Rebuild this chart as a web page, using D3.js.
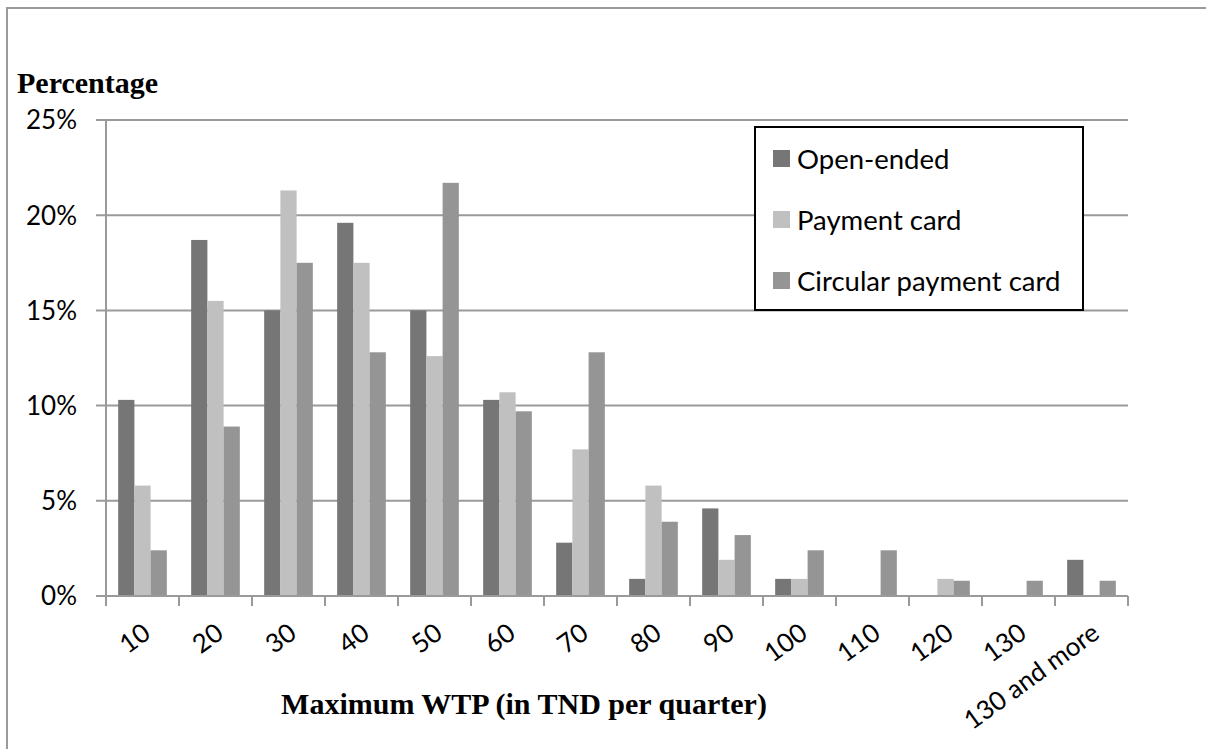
<!DOCTYPE html>
<html>
<head>
<meta charset="utf-8">
<script src="https://cdn.jsdelivr.net/npm/d3@7"></script>
<style>
  body { margin: 0; background: #fff; }
  .tick-label { font-family: Lato, "Open Sans", sans-serif; font-size: 26px; fill: #000; }
  .legend-label { font-family: Lato, "Open Sans", sans-serif; font-size: 27.5px; fill: #000; }
  .title { font-family: "Liberation Serif", "DejaVu Serif", serif; font-weight: bold; font-size: 30px; fill: #000; }
</style>
</head>
<body>
<svg id="chart" width="1206" height="749"></svg>
<script>
// WTP categories and the share of respondents (%) per elicitation format
const categories = ["10", "20", "30", "40", "50", "60", "70", "80", "90", "100", "110", "120", "130", "130 and more"];
const seriesNames = ["Open-ended", "Payment card", "Circular payment card"];
const openEnded   = [10.3, 18.7, 15.0, 19.6, 15.0, 10.3, 2.8, 0.9, 4.6, 0.9, 0, 0, 0, 1.9];
const paymentCard = [5.8, 15.5, 21.3, 17.5, 12.6, 10.7, 7.7, 5.8, 1.9, 0.9, 0, 0.9, 0, 0];
const circularCard = [2.4, 8.9, 17.5, 12.8, 21.7, 9.7, 12.8, 3.9, 3.2, 2.4, 2.4, 0.8, 0.8, 0.8];
const yTicks = [0, 5, 10, 15, 20, 25];
const colors = ["#767676", "#c0c0c0", "#959595"];

const seriesValues = [openEnded, paymentCard, circularCard];

const svg = d3.select("#chart");

// plot area
const plotLeft = 106, plotRight = 1128, plotTop = 120, plotBottom = 596;

// outer frame (left + top lines only visible)
svg.append("path")
    .attr("d", "M7,749 L7,8 L1206,8")
    .attr("fill", "none")
    .attr("stroke", "#9a9a9a")
    .attr("stroke-width", 2);

const x0 = d3.scaleBand()
    .domain(categories)
    .range([plotLeft, plotRight])
    .padding(0);

// gap width 150% like Excel
const x1 = d3.scaleBand()
    .domain(seriesNames)
    .range([0, x0.bandwidth()])
    .paddingInner(0)
    .paddingOuter(0.75);

const y = d3.scaleLinear()
    .domain([0, 25])
    .range([plotBottom, plotTop]);

// gridlines
svg.append("g")
    .selectAll("line")
    .data(yTicks)
    .join("line")
    .attr("x1", plotLeft - 10)
    .attr("x2", plotRight)
    .attr("y1", d => y(d))
    .attr("y2", d => y(d))
    .attr("stroke", "#9a9a9a")
    .attr("stroke-width", 2);

// y labels
svg.append("g")
    .selectAll("text")
    .data(yTicks)
    .join("text")
    .attr("class", "tick-label")
    .attr("x", 77)
    .attr("y", d => y(d))
    .attr("dy", "0.36em")
    .attr("text-anchor", "end")
    .text(d => d + "%");

// bars
const groups = svg.append("g")
    .selectAll("g")
    .data(categories)
    .join("g")
    .attr("transform", d => `translate(${x0(d)},0)`);

groups.selectAll("rect")
    .data((c, i) => seriesNames.map((s, k) => ({ s, k, v: seriesValues[k][i] })))
    .join("rect")
    .attr("x", d => x1(d.s))
    .attr("y", d => y(d.v))
    .attr("width", x1.bandwidth())
    .attr("height", d => y(0) - y(d.v))
    .attr("fill", d => colors[d.k]);

// y axis line
svg.append("line")
    .attr("x1", plotLeft).attr("x2", plotLeft)
    .attr("y1", plotTop).attr("y2", plotBottom)
    .attr("stroke", "#9a9a9a")
    .attr("stroke-width", 2);

// x axis line + ticks at category boundaries
const xBounds = categories.map(c => x0(c)).concat([plotRight]);
svg.append("line")
    .attr("x1", plotLeft).attr("x2", plotRight)
    .attr("y1", plotBottom).attr("y2", plotBottom)
    .attr("stroke", "#9a9a9a")
    .attr("stroke-width", 2);
svg.append("g")
    .selectAll("line")
    .data(xBounds)
    .join("line")
    .attr("x1", d => d).attr("x2", d => d)
    .attr("y1", plotBottom).attr("y2", plotBottom + 10)
    .attr("stroke", "#9a9a9a")
    .attr("stroke-width", 2);

// rotated category labels
svg.append("g")
    .selectAll("text")
    .data(categories)
    .join("text")
    .attr("class", "tick-label")
    .attr("text-anchor", "end")
    .attr("transform", d => `translate(${x0(d) + x0.bandwidth() / 2 - 1},${622}) rotate(-36)`)
    .attr("dy", "0.7em")
    .text(d => d);

// titles
svg.append("text")
    .attr("class", "title")
    .attr("x", 17)
    .attr("y", 93)
    .text("Percentage");

svg.append("text")
    .attr("class", "title")
    .attr("x", 524)
    .attr("y", 714)
    .attr("text-anchor", "middle")
    .text("Maximum WTP (in TND per quarter)");

// legend
const legend = svg.append("g");
legend.append("rect")
    .attr("x", 755).attr("y", 127)
    .attr("width", 328).attr("height", 183)
    .attr("fill", "#fff")
    .attr("stroke", "#000")
    .attr("stroke-width", 2);

const legendRows = [159, 220, 281];
seriesNames.forEach((name, i) => {
    legend.append("rect")
        .attr("x", 773)
        .attr("y", legendRows[i] - 9)
        .attr("width", 17)
        .attr("height", 17)
        .attr("fill", colors[i]);
    legend.append("text")
        .attr("class", "legend-label")
        .attr("x", 797)
        .attr("y", legendRows[i])
        .attr("dy", "0.36em")
        .text(name);
});
</script>
</body>
</html>
